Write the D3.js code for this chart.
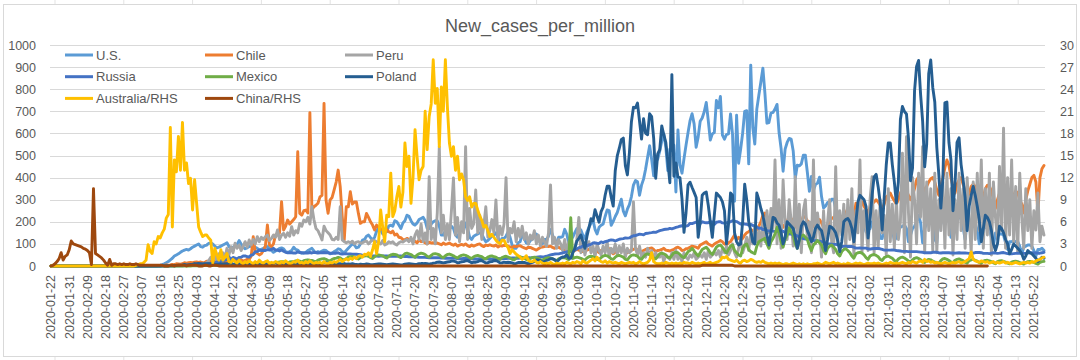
<!DOCTYPE html>
<html><head><meta charset="utf-8">
<script src="https://cdn.jsdelivr.net/npm/d3@7"></script>
<style>
body{margin:0;background:#fff;}
svg{display:block;font-family:"Liberation Sans",Arial,sans-serif;}
</style>
</head><body>
<svg id="chart" width="1080" height="360"></svg>
<script>
const titleText = "New_cases_per_million";
const startDate = "2020-01-22";
const seriesNames = ["U.S.","Chile","Peru","Russia","Mexico","Poland","Australia/RHS","China/RHS"];
const seriesColors = ["#5B9BD5","#ED7D31","#A5A5A5","#4472C4","#70AD47","#255E91","#FFC000","#9E480E"];
const seriesAxis = ["L","L","L","L","L","L","R","R"];
const leftTicks = [0,100,200,300,400,500,600,700,800,900,1000];
const rightTicks = [0,3,6,9,12,15,18,21,24,27,30];

const us = [
0,0,0,0,0,0,0, 0,0,0,0,0,0,0, 0,0,0,0,0,0,0, 0,0,0,0,0,0,0, 0,0,0,0,0,0,0, 0,0,0,0,0,0,0,
0,0,0,1,1,1,2, 1,2,2,3,3,4,6, 10,15,20,28,35,45,50, 55,62,68,72,75,72,78,
85,90,95,100,88,85,92, 95,102,105,100,90,82,85, 90,95,100,105,88,80,84, 92,98,115,100,85,78,82,
88,90,95,85,80,72,76, 80,85,88,80,70,62,68, 72,80,82,78,65,62,65, 70,85,75,72,62,58,60,
62,70,75,80,68,60,65, 62,68,72,70,62,55,58, 65,70,78,75,65,60,70, 80,90,100,95,82,85,100,
117,120,135,140,128,118,130, 157,172,163,145,150,155,181, 185,180,205,200,185,170,195, 205,230,225,205,190,185,195,
210,215,220,205,170,170,190, 200,205,205,180,140,140,160, 165,165,180,170,140,130,155, 165,160,195,170,130,120,135,
140,145,150,145,125,110,115, 125,135,140,150,130,105,125, 125,135,155,130,95,80,80, 105,110,145,125,105,100,115,
120,135,145,125,105,100,120, 120,135,165,140,105,105,130, 130,133,166,145,106,121,130, 151,169,172,163,139,124,154,
175,193,208,166,145,175,184, 190,224,254,251,184,202,224, 242,272,302,248,227,257,278, 314,366,387,381,320,366,393,
438,492,544,483,408,498,483, 520,565,598,538,432,529,523, 547,335,616,456,420,486,547, 604,658,689,643,537,583,655,
670,698,740,658,570,598,604, 749,716,767,592,574,595,598, 688,595,293,682,465,528,601, 700,703,462,909,628,552,710,
773,833,895,782,646,649,692, 695,710,731,604,532,429,529, 559,577,574,520,396,456,453, 462,501,501,423,338,405,341,
369,375,402,314,263,272,287, 287,302,302,257,193,163,187, 211,211,236,218,172,169,218, 224,233,233,190,154,175,169,
199,205,202,180,125,124,175, 178,195,180,165,115,128,165, 175,180,185,170,110,140,170, 180,200,230,195,105,170,195,
200,225,200,120,105,215,190, 225,235,250,230,130,200,220, 225,220,215,175,120,195,190, 195,205,195,160,100,165,170,
175,170,165,130,90,150,135, 145,145,140,105,75,110,110, 115,110,110,90,55,85,90, 95,95,90,70,45,75,75,
80,70];

const chile = [
0,0,0,0,0,0,0, 0,0,0,0,0,0,0, 0,0,0,0,0,0,0, 0,0,0,0,0,0,0, 0,0,0,0,0,0,0, 0,0,0,0,0,0,0, 0,0,0,0,0,0,0,
0,1,1,1,2,2,3, 3,5,4,4,7,6,10, 9,8,10,15,12,15,16, 15,17,18,16,18,15,16,
22,22,20,23,22,16,18, 25,20,18,20,25,24,26, 26,25,28,28,22,25,30, 30,45,133,60,57,50,55,
70,90,186,95,87,100,140, 140,150,291,163,180,208,190, 200,210,223,517,238,230,250, 253,240,694,253,268,275,284,
313,320,736,299,238,299,310, 344,380,434,359,223,118,268, 268,336,280,290,290,238,193, 200,200,238,220,200,185,163,
185,175,165,170,160,165,155, 150,158,140,145,130,128,120, 118,125,120,118,110,112,105, 118,110,112,105,100,108,104,
105,102,104,100,96,104,98, 100,104,98,94,100,90,95, 98,94,100,92,88,95,90, 94,98,100,92,88,95,92,
96,92,90,95,86,92,90, 94,92,90,86,84,90,88, 90,92,86,82,78,85,84, 80,76,72,78,84,86,88,
90,88,90,84,80,86,84, 80,75,72,78,70,65,72, 70,75,72,68,65,70,72, 75,80,78,72,68,60,70,
72,75,80,78,65,55,62, 70,75,78,70,65,60,68, 72,75,80,72,68,65,70, 75,78,80,82,75,65,70,
72,75,80,72,70,68,72, 75,82,85,80,70,72,78, 80,85,90,88,85,80,95, 100,105,110,100,95,90,100,
105,110,115,110,100,95,105, 110,125,140,120,130,115,125, 140,150,155,165,160,150,165, 180,200,230,240,200,190,180,
200,220,210,200,190,175,190, 205,220,215,200,185,170,190, 200,225,220,205,190,175,180, 190,200,210,195,175,170,185,
200,215,220,200,185,175,180, 220,240,260,250,230,220,284, 260,280,290,270,255,240,270, 280,290,300,290,275,255,280,
313,320,330,310,295,280,300, 330,350,345,340,320,300,320, 350,389,404,380,360,340,360, 380,395,400,380,345,320,365,
400,445,480,455,400,360,330, 370,390,400,370,340,310,330, 360,370,360,340,300,255,310, 350,365,360,340,300,260,300,
330,340,350,330,300,260,290, 320,340,330,300,280,240,300, 340,370,400,410,380,240,400,
440,455];

const peru = [
0,0,0,0,0,0,0, 0,0,0,0,0,0,0, 0,0,0,0,0,0,0, 0,0,0,0,0,0,0, 0,0,0,0,0,0,0, 0,0,0,0,0,0,0,
0,0,0,0,0,0,0, 0,0,0,0,1,1,1, 1,1,1,1,1,1,3, 2,2,2,3,2,4,4,
6,5,6,4,7,8,10, 15,25,40,30,45,20,55, 40,60,35,80,50,87,60, 103,80,95,70,90,110,85,
118,95,120,100,133,110,130, 120,133,140,115,125,140,130, 163,120,140,148,130,150,135, 178,140,160,150,193,180,208,
200,220,190,268,210,170,160, 140,118,180,160,150,140,120, 118,130,120,268,118,110,105, 110,105,112,100,108,110,103,
105,110,113,100,110,118,115, 110,105,100,115,95,100,110, 105,110,100,95,105,110,108, 115,120,110,130,100,140,160,
120,190,110,150,100,404,120, 170,100,240,540,150,230,120, 190,120,250,398,140,220,110, 200,150,540,120,260,170,190,
344,150,230,120,180,268,130, 160,210,150,299,120,180,140, 190,400,110,170,150,200,110, 170,130,180,120,150,100,140,
120,160,100,140,90,130,110, 90,150,367,100,130,80,120, 100,70,120,60,110,90,60, 80,120,220,60,100,50,90,
110,60,90,40,100,70,50, 90,60,110,40,80,60,100, 50,90,60,100,40,80,60, 70,290,80,50,90,40,60,
40,80,50,70,30,60,40, 40,60,20,50,40,30,60, 30,70,30,50,20,60,40, 30,50,40,60,30,40,50,
40,60,30,70,40,50,60, 50,70,40,80,60,90,50, 70,100,60,40,80,120,60, 90,130,70,150,100,180,110,
160,90,210,110,250,150,260, 170,480,100,300,80,389,200, 120,300,200,90,404,110,280, 60,250,300,120,200,60,480,
100,240,160,40,250,90,200, 300,110,60,449,100,250,140, 280,80,300,120,350,50,250, 150,480,60,250,180,70,300,
404,60,250,80,300,150,230, 50,350,110,280,80,300,120, 200,510,60,585,240,40,400, 300,100,420,220,540,60,380,
160,350,70,420,60,300,160, 380,80,420,140,350,50,300, 120,420,160,350,80,400,220, 60,380,120,420,160,480,80,
350,140,420,50,380,220,120, 450,160,624,80,400,140,480, 110,360,60,420,220,80,350, 160,300,80,250,163,330,110,
180,140];

const russia = [
0,0,0,0,0,0,0, 0,0,0,0,0,0,0, 0,0,0,0,0,0,0, 0,0,0,0,0,0,0, 0,0,0,0,0,0,0, 0,0,0,0,0,0,0, 0,0,0,0,0,0,0, 0,0,0,0,0,0,0,
0,0,0,0,0,0,1, 1,1,1,2,2,2,3, 3,5,4,4,6,8,8, 9,11,12,11,15,18,17,
22,24,26,30,41,29,39, 36,32,39,40,45,46,42, 41,49,52,65,65,73,70, 71,70,74,72,75,80,72,
73,68,73,67,62,60,60, 60,59,59,64,61,60,58, 60,59,61,59,62,61,59, 60,60,61,60,60,58,58,
58,58,60,55,54,55,56, 54,54,53,53,53,52,51, 49,48,47,47,46,46,46, 45,44,45,45,46,46,44,
44,45,44,44,45,45,44, 43,43,42,42,42,41,40, 39,39,39,39,38,37,37, 37,37,37,37,36,36,35,
35,35,35,35,35,33,33, 33,34,34,34,34,32,31, 32,32,33,33,33,33,32, 32,32,33,33,34,33,33,
34,34,35,35,36,36,35, 35,36,37,37,37,37,37, 38,39,40,41,42,41,42, 44,47,50,52,54,55,55,
57,59,62,64,66,67,68, 72,77,83,85,91,90,91, 96,98,104,105,103,102,109, 106,110,112,116,118,117,113,
117,121,123,124,127,126,127, 133,137,138,141,144,143,141, 147,148,150,151,153,152,156, 160,162,165,166,167,170,168,
171,175,177,180,182,181,181, 183,193,192,195,198,198,192, 200,197,196,196,200,199,188, 198,200,200,195,194,195,198,
200,205,203,201,196,190,192, 190,189,185,188,184,180,177, 170,172,165,165,160,158,160, 158,156,157,160,159,157,152,
147,145,144,144,140,136,132, 128,124,122,122,122,121,115, 114,114,112,110,108,104,100, 100,99,98,98,96,93,88,
89,90,88,88,88,85,81, 81,82,81,81,81,78,76, 78,79,79,79,78,75,72, 72,72,72,73,72,70,69,
68,66,66,66,65,65,65, 65,65,64,63,62,60,60, 60,60,62,62,62,60,59, 60,60,60,60,59,59,58,
59,60,59,59,59,58,57, 57,58,61,61,61,60,57, 57,57,56,58,60,58,57, 58,60,61,58,56,55,55,
56,57,58,58,58,57,57, 59,60,60,59,59,58,58,
60,62];

const mexico = [
0,0,0,0,0,0,0, 0,0,0,0,0,0,0, 0,0,0,0,0,0,0, 0,0,0,0,0,0,0, 0,0,0,0,0,0,0,
0,0,0,0,0,0,0, 0,0,0,0,0,0,0, 0,0,0,0,0,0,0, 0,0,0,0,0,0,0, 0,0,0,0,0,0,0,
1,1,1,1,1,2,2, 3,2,2,3,3,2,3, 4,4,5,5,6,6,6, 8,9,10,9,7,7,9,
11,12,12,13,10,9,12, 14,15,15,14,12,12,14, 16,18,19,19,15,14,18, 20,20,23,24,22,18,24,
26,28,26,25,22,20,27, 30,32,33,30,25,24,30, 34,36,39,37,30,28,33, 40,42,43,40,35,32,38,
44,45,47,44,38,34,42, 48,50,48,46,40,36,44, 50,53,52,50,42,38,46, 56,58,55,52,45,40,50,
55,58,56,52,44,40,48, 55,56,54,50,42,38,46, 52,54,50,46,40,36,44, 48,50,48,44,38,34,42,
46,48,45,42,35,32,40, 44,46,42,40,34,30,38, 42,44,40,36,30,28,36, 40,42,38,35,30,26,34,
38,40,37,34,28,25,32, 36,38,36,33,27,24,32, 36,38,37,34,28,218,34, 38,40,38,35,30,27,36,
42,44,42,38,30,28,38, 45,48,46,40,32,30,40, 46,48,44,40,30,28,40, 48,50,48,44,34,30,42,
52,55,52,46,36,32,44, 56,58,55,50,40,36,48, 60,62,60,52,42,38,50, 65,70,80,68,55,45,60,
75,80,85,75,60,52,68, 85,92,95,85,70,58,75, 90,95,70,60,50,45,80, 95,100,75,65,60,55,90,
110,115,120,125,100,80,110, 125,145,175,150,110,85,120, 140,173,150,140,100,80,115, 135,140,130,120,90,70,95,
105,115,105,95,70,55,80, 90,95,85,75,55,45,65, 75,78,70,60,45,35,55, 60,62,58,50,38,30,45,
50,52,48,42,30,25,38, 42,45,40,35,25,20,32, 38,40,36,30,22,18,28, 35,38,34,28,20,16,26,
30,28,22,18,14,12,24, 32,34,30,25,18,14,26, 30,32,28,24,17,13,24, 28,30,26,22,16,12,22,
25,26,23,20,14,10,20, 23,24,21,18,13,10,18, 21,22,20,16,12,9,16, 20,21,19,16,12,9,16,
20,21];

const poland = [
0,0,0,0,0,0,0, 0,0,0,0,0,0,0, 0,0,0,0,0,0,0, 0,0,0,0,0,0,0, 0,0,0,0,0,0,0, 0,0,0,0,0,0,0,
0,0,0,0,0,0,0, 0,0,0,0,1,0,1, 1,1,1,2,3,3,2, 4,4,5,7,5,6,7,
7,11,10,12,11,9,10, 10,10,9,10,8,7,7, 10,9,10,10,13,14,7, 10,8,10,9,7,7,12,
9,10,7,7,6,5,8, 8,8,9,10,10,12,15, 11,9,13,10,6,10,11, 9,10,12,11,9,10,9,
8,11,10,9,8,10,8, 9,12,15,16,10,11,8, 9,8,11,10,9,11,8, 9,8,10,8,7,6,8,
7,7,9,8,6,6,7, 8,9,9,8,7,6,7, 8,9,8,7,6,5,6, 8,9,10,9,8,7,8,
10,11,11,12,10,8,10, 13,14,17,18,16,14,16, 18,19,22,22,20,14,16, 19,20,23,24,20,14,17,
17,20,24,24,19,14,15, 19,20,24,25,20,14,14, 17,16,17,16,14,10,12, 16,16,16,16,13,10,13,
16,20,27,27,24,18,20, 25,28,33,33,29,20,27, 36,41,42,51,35,35,59, 79,113,125,140,111,80,134,
173,214,204,255,226,198,246, 266,320,361,361,311,271,431, 498,533,572,579,454,412,512, 653,718,716,737,656,574,667,
600,594,689,676,578,397,507, 526,634,594,559,472,377,866, 406,466,402,400,304,152,241, 367,379,355,333,310,130,201,
320,330,335,275,200,130,230, 330,320,310,290,250,100,190, 330,320,150,110,95,100,200, 370,300,200,160,110,100,330,
300,260,230,180,140,95,150, 220,215,195,185,150,100,130, 200,190,180,170,130,80,120, 180,200,190,160,140,110,130,
170,185,170,160,120,70,120, 180,175,165,150,115,65,110, 200,210,215,200,170,110,200, 290,320,310,300,270,127,210,
321,403,415,359,288,163,311, 457,557,557,459,381,285,381, 663,722,699,688,578,386,443, 793,903,930,774,654,449,552,
870,932,808,742,537,415,262, 394,738,742,559,480,250,370, 560,580,460,390,310,160,270, 320,360,320,270,210,110,170,
230,220,200,160,100,70,100, 180,170,150,120,100,55,75, 100,90,80,70,55,30,45, 70,60,55,45,35,20,30,
40,35];

const australiaRHS = [
0,0,0,0,0,0,0, 0,0,0,0,0,0,0, 0,0,0,0,0,0,0, 0,0,0,0,0,0,0, 0,0,0,0,0,0,0, 0,0,0,0,0,0,0,
0.1,0.2,0.3,0.3,0.5,0.8,2.9, 2.0,1.7,3.3,3.0,4.0,3.8,4.5, 5.0,6.5,7.0,18.8,5.3,14.4,12.8, 17.6,13.0,19.5,13.0,14.0,11.2,11.9,
7.6,11.7,8.5,5.3,4.6,4.0,4.2, 4.2,3.8,3.5,0.4,2.4,1.5,0.8, 2.2,0.8,1.2,1.7,0.6,0.5,0.9, 0.6,0.4,0.8,0.5,0.3,0.6,0.4,
0.7,0.5,0.3,0.6,0.4,0.8,0.5, 0.4,0.6,0.7,0.3,0.5,0.4,0.6, 0.5,0.3,0.6,0.4,0.7,0.5,0.3, 0.4,0.6,0.5,0.8,0.4,0.5,0.3,
0.6,0.4,0.7,0.5,0.3,0.5,0.4, 0.5,0.3,0.6,0.4,0.3,0.5,0.4, 0.6,0.5,0.7,0.9,0.6,0.8,1.0, 0.8,1.1,0.9,1.2,1.0,1.3,1.4,
1.2,1.6,1.5,1.8,1.3,2.2,3.3, 1.7,3.3,7.6,5.3,3.3,6.9,6.7, 12.6,6.7,7.5,9.4,10.8,8.0,10.0, 16.7,13.5,14.9,8.5,12.0,18.5,14.9,
11.7,13.0,13.5,21.0,15.8,20.3,22.0, 28.0,22.1,24.1,16.2,24.3,21.0,28.0, 21.6,16.7,14.9,16.2,13.0,14.9,11.7, 12.5,11.7,9.4,8.9,9.4,8.0,8.5,
8.5,7.6,6.8,6.2,5.3,5.5,4.8, 4.0,4.3,3.9,3.5,3.2,3.0,3.5, 3.5,2.9,2.5,1.7,2.2,1.9,1.6, 1.4,1.2,0.9,1.1,1.4,0.8,0.6,
0.6,0.8,0.5,0.4,0.6,0.4,0.3, 0.4,0.3,0.5,0.3,0.2,0.4,0.3, 0.3,0.4,0.3,0.5,0.4,0.3,0.5, 0.4,0.6,0.5,0.3,0.7,0.5,0.4,
0.6,0.8,1.0,0.7,1.2,0.8,0.6, 0.5,0.7,0.4,0.6,0.5,0.4,0.5, 0.4,0.3,0.5,0.4,0.3,0.4,0.5, 0.4,0.5,0.3,0.4,0.6,0.4,0.3,
0.4,0.5,0.8,1.8,0.6,0.4,0.3, 0.3,0.4,0.3,0.5,0.4,0.3,0.4, 0.3,0.4,0.3,0.4,0.3,0.5,0.4, 0.4,0.3,0.5,0.4,0.3,0.4,0.3,
0.4,0.5,0.3,0.4,0.5,0.3,0.4, 0.5,0.6,0.8,1.2,1.1,1.3,0.9, 0.8,0.7,0.6,0.8,0.5,0.4,0.7, 0.8,0.6,0.7,0.9,0.8,0.6,0.5,
0.6,0.5,0.7,0.5,0.4,0.3,0.4, 0.3,0.4,0.3,0.4,0.3,0.2,0.3, 0.3,0.2,0.3,0.4,0.3,0.2,0.3, 0.2,0.3,0.2,0.3,0.2,0.2,0.3,
0.3,0.4,0.3,0.2,0.3,0.5,0.4, 0.3,0.4,0.5,0.3,0.4,0.3,0.2, 0.3,0.2,0.4,0.3,0.2,0.3,0.4, 0.3,0.4,0.3,0.2,0.3,0.4,0.3,
0.3,0.4,0.3,0.4,0.3,0.2,0.3, 0.4,0.3,0.5,0.4,0.3,0.4,0.3, 0.4,0.5,0.4,0.3,0.5,0.4,0.6, 0.5,0.4,0.6,0.7,0.5,0.9,0.6,
0.7,0.5,0.6,0.4,0.5,0.4,0.3, 0.4,0.5,0.4,0.3,0.4,0.5,0.4, 0.5,0.6,0.4,0.5,0.6,0.8,1.0, 1.9,0.9,0.7,0.6,0.5,0.7,0.6,
0.5,0.6,0.4,0.5,0.6,0.4,0.5, 0.4,0.5,0.6,0.4,0.5,0.4,0.3, 0.4,0.5,0.4,0.3,0.4,0.5,0.4, 0.5,0.4,0.6,0.5,0.7,0.8,0.9,
1.1,1.2];

const chinaRHS = [
0,0.1,0.3,0.6,1.0,1.8,0.8, 1.3,1.5,2.2,3.4,3.0,2.9,2.8, 2.7,2.6,2.4,2.3,2.1,1.8,0.2, 10.5,1.7,1.5,1.3,1.1,0.8,0.4,
0.1,0.9,0.1,0.3,0.3,0.2,0.3, 0.2,0.3,0.2,0.2,0.3,0.2,0.2, 0.3,0.2,0.1,0.1,0.1,0.1,0.1, 0.1,0.1,0.1,0.1,0.1,0.1,0.1,
0,0,0,0.1,0.1,0,0.1, 0.1,0.1,0.1,0.1,0,0.1,0.1, 0.1,0.1,0.1,0,0,0,0.1, 0.1,0,0,0.1,0.1,0.1,0,
0,0,0,0,0,0,0, 0,0,0,0,0,0,0, 0,0,0,0,0,0,0, 0,0,0,0,0,0,0, 0,0,0,0,0,0,0, 0,0,0,0,0,0,0,
0,0,0,0,0,0,0, 0,0,0,0,0,0,0, 0,0,0,0,0,0,0, 0,0,0,0,0,0,0, 0,0,0,0,0,0,0, 0,0,0,0,0,0,0,
0,0,0,0,0,0,0, 0,0,0,0,0,0,0, 0,0,0,0,0,0,0, 0,0,0,0,0,0,0, 0,0,0,0,0,0,0, 0,0,0,0,0,0,0,
0,0,0,0,0,0,0, 0,0,0,0,0,0,0, 0,0,0,0,0,0,0, 0,0,0,0,0,0,0, 0,0,0,0,0,0,0, 0,0,0,0,0,0,0,
0,0,0,0,0,0,0, 0,0,0,0,0,0,0, 0,0,0,0,0,0,0, 0,0,0,0,0,0,0, 0,0,0,0,0,0,0, 0,0,0,0,0,0,0,
0,0,0,0,0,0,0, 0,0,0,0,0,0,0, 0,0,0,0,0,0,0, 0,0,0,0,0,0,0,
0.1,0.1,0.1,0.1,0.1,0.1,0.1, 0.1,0.1,0.1,0.1,0.1,0.1,0.1, 0.1,0.1,0,0,0,0,0,
0,0,0,0,0,0,0, 0,0,0,0,0,0,0, 0,0,0,0,0,0,0, 0,0,0,0,0,0,0, 0,0,0,0,0,0,0, 0,0,0,0,0,0,0,
0,0,0,0,0,0,0, 0,0,0,0,0,0,0, 0,0,0,0,0,0,0, 0,0,0,0,0,0,0, 0,0,0,0,0,0,0, 0,0,0,0,0,0,0,
0,0,0,0,0,0,0, 0,0,0,0,0,0,0, 0,0,0,0,0,0,0, 0,0,0,0,0,0,0, 0,0,0,0,0,0,0,
0,0];

const seriesValues = [us, chile, peru, russia, mexico, poland, australiaRHS, chinaRHS];

// ---------- build ----------
const parse = d3.timeParse("%Y-%m-%d"), fmt = d3.timeFormat("%Y-%m-%d");
const n = d3.max(seriesValues, s => s.length);
const t0 = parse(startDate);
const dates = d3.range(n).map(i => fmt(d3.timeDay.offset(t0, i)));
const tickLabels = dates.filter((d, i) => i % 9 === 0);

const svg = d3.select("#chart");
const W = 1080, H = 360;
const plot = {left: 50, right: 1045, top: 45, bottom: 266};
const textColor = "#595959", gridColor = "#D9D9D9";

svg.append("rect").attr("width", W).attr("height", H).attr("fill", "#fff");
// spreadsheet cell lines around chart
const cellX = d3.range(55, 1080, 68.8);
svg.append("g").selectAll("line").data(cellX).join("line")
  .attr("x1", d => d).attr("x2", d => d).attr("y1", 0).attr("y2", H)
  .attr("stroke", "#E3E3E3").attr("stroke-width", 1);
svg.append("rect").attr("x", 3.5).attr("y", 4.5).attr("width", 1073).attr("height", 352)
  .attr("fill", "#fff").attr("stroke", gridColor).attr("stroke-width", 1);

const x = d3.scaleBand().domain(dates).range([plot.left, plot.right]).padding(0);
const bw = x.bandwidth();
const yL = d3.scaleLinear().domain([0, 1000]).range([plot.bottom, plot.top]);
const yR = d3.scaleLinear().domain([0, 30]).range([plot.bottom, plot.top]);

// gridlines
svg.append("g").selectAll("line").data(leftTicks).join("line")
  .attr("x1", plot.left).attr("x2", plot.right)
  .attr("y1", d => Math.round(yL(d)) + 0.5).attr("y2", d => Math.round(yL(d)) + 0.5)
  .attr("stroke", gridColor).attr("stroke-width", 1);

// axes
const axL = svg.append("g").attr("transform", `translate(${plot.left},0)`)
  .call(d3.axisLeft(yL).tickValues(leftTicks).tickFormat(d3.format("d")).tickSize(0).tickPadding(14));
const axR = svg.append("g").attr("transform", `translate(${plot.right},0)`)
  .call(d3.axisRight(yR).tickValues(rightTicks).tickFormat(d3.format("d")).tickSize(0).tickPadding(15));
const axB = svg.append("g").attr("transform", `translate(0,${plot.bottom})`)
  .call(d3.axisBottom(x).tickValues(tickLabels).tickSize(0));
axB.selectAll("text").attr("transform", "rotate(-90)").attr("x", -9).attr("y", 0)
  .attr("dy", "0.35em").style("text-anchor", "end");
[axL, axR, axB].forEach(a => {
  a.select(".domain").remove();
  a.selectAll("text").attr("fill", textColor).style("font-size", "12.5px")
    .style("font-family", '"Liberation Sans", Arial, sans-serif');
});

// lines
const g = svg.append("g");
seriesValues.forEach((vals, si) => {
  const y = seriesAxis[si] === "R" ? yR : yL;
  const line = d3.line().x((d, i) => x(dates[i]) + bw / 2).y(d => y(d));
  g.append("path").datum(vals).attr("d", line).attr("fill", "none")
    .attr("stroke", seriesColors[si]).attr("stroke-width", 2.9)
    .attr("stroke-linejoin", "round").attr("stroke-linecap", "round");
});

// title
svg.append("text").attr("x", 540).attr("y", 31.5).attr("text-anchor", "middle")
  .attr("fill", textColor).style("font-size", "18px").text(titleText);

// legend
const leg = svg.append("g");
seriesNames.forEach((name, i) => {
  const col = i % 3, row = Math.floor(i / 3);
  const lx = 65 + col * 140, ly = 55 + row * 21.7;
  leg.append("line").attr("x1", lx).attr("x2", lx + 28).attr("y1", ly).attr("y2", ly)
    .attr("stroke", seriesColors[i]).attr("stroke-width", 3);
  leg.append("text").attr("x", lx + 31).attr("y", ly).attr("dy", "0.35em")
    .attr("fill", textColor).style("font-size", "13px").text(name);
});
</script>
</body></html>
